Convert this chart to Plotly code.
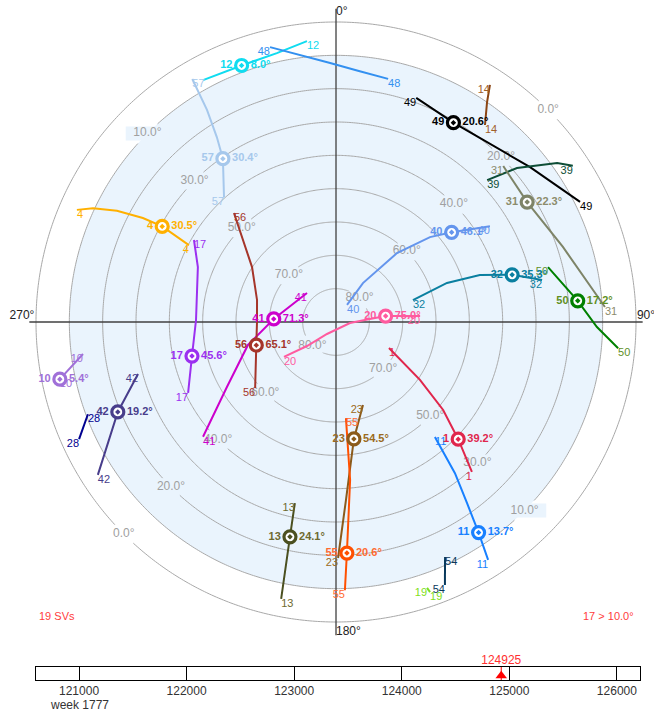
import numpy as np
import plotly.graph_objects as go

# ---------------- data ----------------
prns = ["12", "48", "49", "14", "39", "31", "40", "32", "50", "20", "41", "56", "57",
        "4", "17", "10", "42", "28", "13", "23", "55", "1", "11", "54", "19"]

track_az = [
    [331.2, 339.8, 347.6, 354.1],                 # 12
    [346.5, 358.7, 5.2, 12.1],                    # 48
    [19.7, 30.5, 51.4, 63.8],                     # 49
    [33.0, 34.5, 37.1],                           # 14
    [46.8, 49.6, 54.3, 56.6],                     # 39
    [47.0, 57.9, 71.7, 86.8],                     # 31
    [32.9, 34.7, 41.5, 47.9, 52.2, 58.1],         # 40
    [74.1, 70.6, 71.9, 75.0, 78.5],               # 32
    [75.5, 85.0, 91.1, 95.3],                     # 50
    [236.1, 230.4, 216.9, 94.1, 85.0, 83.2, 85.9],  # 20
    [229.2, 239.2, 255.4, 272.8, 315.0],          # 41
    [316.9, 303.2, 285.6, 270.0, 253.8, 230.8],   # 56
    [329.4, 328.7, 327.2, 325.3, 318.1],          # 57
    [293.4, 295.1, 296.9, 298.3, 298.8, 297.6],   # 4
    [300.0, 291.7, 270.8, 256.7, 244.4],          # 17
    [262.8, 258.3],                               # 10
    [255.3, 247.6, 237.3],                        # 42
    [249.6, 245.5],                               # 28
    [192.8, 192.1, 191.2],                        # 13
    [162.0, 171.3, 176.8, 179.5],                 # 23
    [174.1, 174.9, 177.3, 178.1],                 # 55
    [116.1, 124.6, 129.4, 133.8, 137.8],          # 1
    [139.3, 141.8, 144.1, 145.9, 147.4],          # 11
    [155.1, 157.5],                               # 54
    [161.1, 160.8],                               # 19
]
track_el = [
    [7.2, 8.0, 7.4, 5.3],
    [5.2, 12.3, 14.4, 15.4],
    [18.6, 20.6, 15.5, 8.4],
    [5.2, 10.0, 15.9],
    [27.8, 18.7, 8.3, 4.9],
    [21.4, 22.3, 18.3, 9.2],
    [83.9, 75.8, 62.4, 52.0, 46.1, 35.6],
    [66.0, 54.7, 44.6, 35.3, 26.9],
    [24.3, 17.2, 11.7, 5.0],
    [71.2, 78.7, 85.5, 85.8, 79.8, 75.0, 64.7],
    [37.3, 51.9, 62.7, 71.3, 77.7],
    [45.2, 59.9, 65.4, 66.3, 65.1, 58.7],
    [5.3, 15.5, 24.0, 30.4, 39.7],
    [5.3, 9.5, 16.3, 24.2, 30.5, 40.2],
    [40.8, 45.4, 48.0, 45.6, 40.8],
    [13.5, 5.4],
    [28.6, 19.2, 5.1],
    [10.6, 5.3],
    [34.3, 24.1, 5.3],
    [63.8, 54.5, 36.5, 19.2],
    [61.0, 42.4, 20.6, 9.5],
    [72.3, 59.4, 48.4, 39.2, 29.3],
    [44.5, 32.3, 23.0, 13.7, 5.3],
    [12.3, 4.6],
    [5.7, 4.2],
]

cur_prns = ["12", "49", "31", "40", "32", "50", "20", "41", "56", "57",
            "4", "17", "10", "42", "13", "23", "55", "1", "11"]
cur_az = [339.8, 30.5, 57.9, 52.2, 75.0, 85.0, 83.2, 272.8, 253.8, 325.3,
          298.8, 256.7, 258.3, 247.6, 192.1, 171.3, 177.3, 133.8, 145.9]
cur_el = [8.0, 20.6, 22.3, 46.1, 35.3, 17.2, 75.0, 71.3, 65.1, 30.4,
          30.5, 45.6, 5.4, 19.2, 24.1, 54.5, 20.6, 39.2, 13.7]

ring_els = [0, 10, 20, 30, 40, 50, 60, 70, 80]
mask_el = 10.0

time_ticks = [121000, 122000, 123000, 124000, 125000, 126000]
time_range = [120600, 126215]
current_time = 124925
gps_week = 1777

# ---------------- style ----------------
sat_colors = {
    "12": "#10dcf0", "48": "#3390f0", "49": "#000000", "14": "#8b4513",
    "39": "#0d4d36", "31": "#7e8468", "40": "#6495ed", "32": "#0a7fa0",
    "50": "#008000", "20": "#ff5b9f", "41": "#cc00cc", "56": "#a5352a",
    "57": "#a6c8ec", "4": "#ffb000", "17": "#9b30f0", "10": "#a070d8",
    "42": "#483d8b", "28": "#000090", "13": "#4b5020", "23": "#8b5a1a",
    "55": "#ff5000", "1": "#e0264c", "11": "#1880ff", "54": "#0a3a5c",
    "19": "#7fe020",
}
label_colors = {"50": "#5f8f1f", "13": "#6e6a30", "23": "#9a6a20", "55": "#ff6a30",
                "31": "#8c8c6c", "14": "#a0602a"}
end_pos = {
    "12": (None, "bottom right"), "48": ("bottom left", "bottom right"),
    "49": ("bottom left", "bottom right"), "14": ("bottom left", "bottom right"),
    "39": ("bottom right", "bottom left"), "31": ("bottom left", "bottom right"),
    "40": ("bottom right", "bottom left"), "32": ("bottom right", "bottom left"),
    "50": ("bottom left", "bottom right"), "20": ("bottom right", "bottom left"),
    "41": ("bottom right", "bottom left"), "56": ("bottom right", "bottom left"),
    "57": ("bottom right", "bottom left"), "4": ("bottom right", "bottom left"),
    "17": ("bottom right", "bottom left"), "10": ("bottom left", "bottom right"),
    "42": ("bottom left", "bottom right"), "28": ("bottom right", "bottom left"),
    "13": ("bottom left", "bottom right"), "23": ("bottom left", "bottom left"),
    "55": ("bottom right", "bottom left"), "1": ("bottom right", "bottom left"),
    "11": ("bottom right", "bottom left"), "54": ("bottom right", "bottom left"),
    "19": ("bottom left", "bottom right"),
}
FONT = "Liberation Sans, Arial, sans-serif"
FILL = "#eaf4fd"
RING = "#a8a8a8"
W, H = 654, 711
CX, CY, R0 = 336, 322, 300.0     # pixel centre and radius of the 0 deg ring
RMAX = 95.0
R_PX = R0 * RMAX / 90.0


def zr(el):
    return 90.0 - np.asarray(el, dtype=float)


fig = go.Figure()

# elevation mask fill
th = np.linspace(0, 360, 361)
fig.add_trace(go.Scatterpolar(r=np.full(th.size, 90 - mask_el), theta=th, mode="lines",
                              fill="toself", fillcolor=FILL, line=dict(width=0, color=FILL),
                              hoverinfo="skip"))

# rings with gaps at label positions
ring_r, ring_t, lab_r, lab_t, lab_txt, box_r, box_t = [], [], [], [], [], [], []
for e in ring_els:
    r = 90 - e
    angs = [45, 225] if (e // 10) % 2 == 0 else [135, 315]
    rpx = r * R0 / 90
    gap = np.degrees(12.0 / rpx)
    t = np.arange(0, 360.01, 0.5)
    keep = np.ones(t.size, bool)
    for a in angs:
        d = np.abs((t - a + 180) % 360 - 180)
        keep &= d > gap
    rr = np.where(keep, r, np.nan)
    ring_r += list(rr) + [np.nan]
    ring_t += list(t) + [np.nan]
    for a in angs:
        lab_r.append(r)
        lab_t.append(a)
        lab_txt.append(f"{e:.1f}°")
        if e >= mask_el:
            box_r.append(r)
            box_t.append(a)
fig.add_trace(go.Scatterpolar(r=ring_r, theta=ring_t, mode="lines", connectgaps=False,
                              line=dict(color=RING, width=1), hoverinfo="skip"))
# label background boxes
fig.add_trace(go.Scatterpolar(r=box_r, theta=box_t, mode="markers",
                              marker=dict(symbol="line-ew", size=31,
                                          line=dict(width=14, color=FILL)),
                              cliponaxis=False, hoverinfo="skip"))
fig.add_trace(go.Scatterpolar(r=lab_r, theta=lab_t, mode="text", text=lab_txt,
                              textposition="middle center", cliponaxis=False,
                              textfont=dict(family=FONT, size=12, color="#a0a0a0"),
                              hoverinfo="skip"))

# crosshair
fig.add_trace(go.Scatterpolar(r=[92, 92], theta=[270, 90], mode="lines",
                              line=dict(color="#404040", width=1.3), hoverinfo="skip"))
fig.add_trace(go.Scatterpolar(r=[94, 94], theta=[0, 180], mode="lines",
                              line=dict(color="#404040", width=1.3), hoverinfo="skip"))
fig.add_trace(go.Scatterpolar(r=[93, 93, 93, 94.2], theta=[0, 90, 180, 270], mode="text",
                              text=["0°", "90°", "180°", "270°"],
                              textposition=["middle right", "top center", "middle right", "top center"],
                              cliponaxis=False,
                              textfont=dict(family=FONT, size=12, color="#222222"),
                              hoverinfo="skip"))

# tracks
for p, az, el in zip(prns, track_az, track_el):
    c = sat_colors[p]
    fig.add_trace(go.Scatterpolar(r=zr(el), theta=az, mode="lines",
                                  line=dict(color=c, width=2), hoverinfo="skip"))
for p, az, el in zip(prns, track_az, track_el):
    lc = label_colors.get(p, sat_colors[p])
    sp, ep = end_pos[p]
    rs, ts, tx, pos = [], [], [], []
    if sp:
        rs.append(90 - el[0]); ts.append(az[0]); tx.append(p); pos.append(sp)
    rs.append(90 - el[-1]); ts.append(az[-1]); tx.append(p); pos.append(ep)
    fig.add_trace(go.Scatterpolar(r=rs, theta=ts, mode="text", text=tx, textposition=pos,
                                  cliponaxis=False,
                                  textfont=dict(family=FONT, size=11, color=lc),
                                  hoverinfo="skip"))

# current positions
cc = [sat_colors[p] for p in cur_prns]
lcc = [label_colors.get(p, sat_colors[p]) for p in cur_prns]
fig.add_trace(go.Scatterpolar(r=zr(cur_el), theta=cur_az, mode="markers+text",
                              text=cur_prns, textposition="middle left", cliponaxis=False,
                              marker=dict(size=13, color="rgba(0,0,0,0)"),
                              textfont=dict(family=FONT, size=11, color=lcc, weight="bold"),
                              hoverinfo="skip"))
fig.add_trace(go.Scatterpolar(r=zr(cur_el), theta=cur_az, mode="markers+text",
                              text=[f"{e:.1f}°" for e in cur_el], textposition="middle right",
                              cliponaxis=False,
                              marker=dict(size=13, color="rgba(0,0,0,0)"),
                              textfont=dict(family=FONT, size=11, color=lcc, weight="bold"),
                              hoverinfo="skip"))
fig.add_trace(go.Scatterpolar(r=zr(cur_el), theta=cur_az, mode="markers",
                              marker=dict(size=10, color="white"), hoverinfo="skip"))
fig.add_trace(go.Scatterpolar(r=zr(cur_el), theta=cur_az, mode="markers",
                              marker=dict(size=12, symbol="circle-open-dot", color=cc,
                                          line=dict(width=3.2, color=cc)),
                              hoverinfo="skip"))

# timeline
fig.add_trace(go.Scatter(x=[current_time, current_time], y=[0, 1], mode="lines",
                         line=dict(color="red", width=1), xaxis="x", yaxis="y",
                         hoverinfo="skip"))
fig.add_trace(go.Scatter(x=[current_time], y=[0.32], mode="markers",
                         marker=dict(symbol="triangle-up", size=10, color="red"),
                         xaxis="x", yaxis="y", hoverinfo="skip"))
fig.add_trace(go.Scatter(x=[current_time], y=[1], mode="text", text=[str(current_time)],
                         textposition="top center", cliponaxis=False,
                         textfont=dict(family=FONT, size=12, color="#ff3030"),
                         xaxis="x", yaxis="y", hoverinfo="skip"))

n_sv = len(cur_prns)
n_above = sum(1 for e in cur_el if e > mask_el)

fig.update_layout(
    width=W, height=H, margin=dict(l=0, r=0, t=0, b=0, pad=0),
    paper_bgcolor="white", plot_bgcolor="white", showlegend=False,
    font=dict(family=FONT),
    polar=dict(
        domain=dict(x=[(CX - R_PX) / W, (CX + R_PX) / W],
                    y=[(H - CY - R_PX) / H, (H - CY + R_PX) / H]),
        bgcolor="rgba(0,0,0,0)",
        radialaxis=dict(range=[0, RMAX], visible=False, showgrid=False, showline=False),
        angularaxis=dict(direction="clockwise", rotation=90, visible=False,
                         showgrid=False, showline=False),
    ),
    xaxis=dict(domain=[36 / W, 640 / W], range=time_range, tickvals=time_ticks,
               ticktext=[str(t) for t in time_ticks], ticks="inside", ticklen=13,
               tickcolor="black", tickwidth=1, showline=True, mirror=True,
               linecolor="black", linewidth=1, showgrid=False, zeroline=False,
               tickfont=dict(family=FONT, size=12, color="#333333"), fixedrange=True),
    yaxis=dict(domain=[(H - 680) / H, (H - 667) / H], range=[0, 1], showline=True,
               mirror=True, linecolor="black", linewidth=1, showticklabels=False,
               showgrid=False, zeroline=False, ticks="", fixedrange=True),
    annotations=[
        dict(x=time_ticks[0], xref="x", y=(H - 705) / H, yref="paper", text=f"week {gps_week}",
             showarrow=False, font=dict(family=FONT, size=12, color="#333333"),
             xanchor="center", yanchor="middle"),
        dict(x=37 / W, xref="paper", y=(H - 616) / H, yref="paper", text=f"{n_sv} SVs",
             showarrow=False, font=dict(family=FONT, size=11, color="#ff3c3c"),
             xanchor="left", yanchor="middle"),
        dict(x=636 / W, xref="paper", y=(H - 616) / H, yref="paper",
             text=f"{n_above} &gt; {mask_el:.1f}°",
             showarrow=False, font=dict(family=FONT, size=11, color="#ff3c3c"),
             xanchor="right", yanchor="middle"),
    ],
)

fig.write_html("out.html", config={"displayModeBar": False},
               post_script="document.body.style.margin='0';document.body.style.overflow='hidden';")
